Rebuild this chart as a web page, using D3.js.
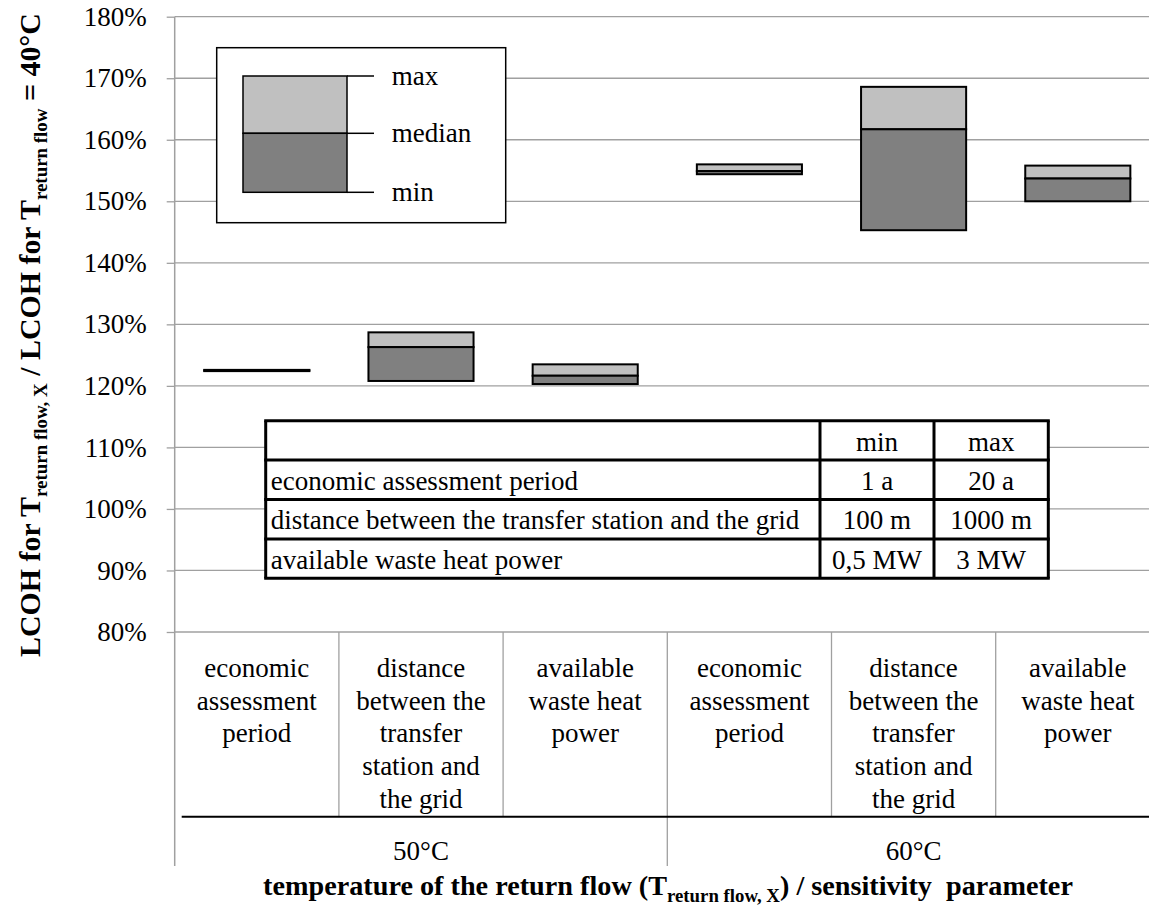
<!DOCTYPE html>
<html>
<head>
<meta charset="utf-8">
<script src="https://cdn.jsdelivr.net/npm/d3@7/dist/d3.min.js"></script>
<style>
  body { margin: 0; background: #fff; }
  svg { display: block; font-family: 'Liberation Serif', 'Times New Roman', serif; }
</style>
</head>
<body>
<svg id="chart" width="1149" height="906"></svg>
<script>
// data
const groups = ['50°C', '60°C'];
const params = ['economic assessment period', 'distance between the transfer station and the grid', 'available waste heat power'];
const paramLines = [
  ['economic', 'assessment', 'period'],
  ['distance', 'between the', 'transfer', 'station and', 'the grid'],
  ['available', 'waste heat', 'power'],
];
const minValues = [122.4, 120.8, 120.3, 154.4, 145.3, 150.0];
const medianValues = [122.5, 126.3, 121.65, 154.9, 161.7, 153.7];
const maxValues = [122.6, 128.7, 123.5, 156.0, 168.6, 155.8];
const yTicks = [80, 90, 100, 110, 120, 130, 140, 150, 160, 170, 180];
const tableHeader = ['', 'min', 'max'];
const tableRows = [
  ['economic assessment period', '1 a', '20 a'],
  ['distance between the transfer station and the grid', '100 m', '1000 m'],
  ['available waste heat power', '0,5 MW', '3 MW'],
];
const legendLabels = ['max', 'median', 'min'];

// layout
const plotLeft = 174.7;
const colStep = 164.2;
const plotRight = plotLeft + colStep * 6;
const plotTop = 16.7;
const plotBottom = 632;
const catLine = 816.7;
const axisBottom = 866;
const gridColor = '#a0a0a0';
const lightFill = '#c0c0c0';
const darkFill = '#808080';

const svg = d3.select('#chart');
svg.append('rect').attr('width', 1149).attr('height', 906).attr('fill', '#fff');

// one column per group x parameter
const cols = groups.flatMap((g) => params.map((p) => `${g}|${p}`));

const x = d3.scaleBand()
  .domain(cols)
  .range([plotLeft, plotRight])
  .paddingInner(0.36)
  .paddingOuter(0.18);

const xGroup = d3.scaleBand().domain(groups).range([plotLeft, plotRight]);

const y = d3.scaleLinear().domain([80, 180]).range([plotBottom, plotTop]);

const colCenter = (c) => x(c) + x.bandwidth() / 2;

// gridlines
svg.append('g')
  .selectAll('line')
  .data(yTicks)
  .join('line')
  .attr('x1', plotLeft)
  .attr('x2', plotRight)
  .attr('y1', (d) => y(d))
  .attr('y2', (d) => y(d))
  .attr('stroke', gridColor)
  .attr('stroke-width', 1.3);

// y axis
const yAxis = svg.append('g')
  .attr('transform', `translate(${plotLeft},0)`)
  .call(d3.axisLeft(y).tickValues(yTicks).tickSize(8).tickPadding(20).tickFormat((d) => `${d}%`));
yAxis.select('.domain').remove();
yAxis.selectAll('.tick line').attr('stroke', gridColor).attr('stroke-width', 1.3);
yAxis.selectAll('.tick text')
  .attr('font-family', "'Liberation Serif', 'Times New Roman', serif")
  .attr('font-size', 27)
  .attr('fill', '#000');

svg.append('line')
  .attr('x1', plotLeft).attr('x2', plotLeft)
  .attr('y1', plotTop).attr('y2', axisBottom)
  .attr('stroke', gridColor).attr('stroke-width', 1.5);

// category separators
svg.append('g')
  .selectAll('line')
  .data(d3.range(1, cols.length))
  .join('line')
  .attr('x1', (i) => plotLeft + i * x.step())
  .attr('x2', (i) => plotLeft + i * x.step())
  .attr('y1', plotBottom)
  .attr('y2', (i) => (i % params.length === 0 ? axisBottom : catLine))
  .attr('stroke', gridColor)
  .attr('stroke-width', 1.3);

svg.append('line')
  .attr('x1', plotLeft + 7).attr('x2', plotRight)
  .attr('y1', catLine).attr('y2', catLine)
  .attr('stroke', '#000').attr('stroke-width', 2);

// category labels
const catG = svg.append('g').attr('font-size', 27).attr('text-anchor', 'middle');
cols.forEach((c, i) => {
  const lines = paramLines[i % params.length];
  const t = catG.append('text');
  lines.forEach((ln, k) => {
    t.append('tspan').attr('x', colCenter(c)).attr('y', 677 + k * 32.7).text(ln);
  });
});

svg.append('g')
  .attr('font-size', 27)
  .attr('text-anchor', 'middle')
  .selectAll('text')
  .data(groups)
  .join('text')
  .attr('x', (g) => xGroup(g) + xGroup.bandwidth() / 2)
  .attr('y', 860)
  .text((g) => g);

// boxes
const boxes = cols.map((c, i) => ({ c, min: minValues[i], med: medianValues[i], max: maxValues[i] }));
const boxG = svg.append('g').attr('stroke', '#000').attr('stroke-width', 2);
boxG.selectAll('rect.upper')
  .data(boxes)
  .join('rect')
  .attr('class', 'upper')
  .attr('x', (d) => x(d.c))
  .attr('width', x.bandwidth())
  .attr('y', (d) => y(d.max))
  .attr('height', (d) => y(d.med) - y(d.max))
  .attr('fill', lightFill);
boxG.selectAll('rect.lower')
  .data(boxes)
  .join('rect')
  .attr('class', 'lower')
  .attr('x', (d) => x(d.c))
  .attr('width', x.bandwidth())
  .attr('y', (d) => y(d.med))
  .attr('height', (d) => y(d.min) - y(d.med))
  .attr('fill', darkFill);

// legend
const lg = svg.append('g');
lg.append('rect')
  .attr('x', 216.7).attr('y', 47.7).attr('width', 289).attr('height', 175)
  .attr('fill', '#fff').attr('stroke', '#000').attr('stroke-width', 1.5);
const legY = [76, 133.3, 192.3];
lg.append('rect')
  .attr('x', 243).attr('y', legY[0]).attr('width', 104).attr('height', legY[1] - legY[0])
  .attr('fill', lightFill).attr('stroke', '#000').attr('stroke-width', 1.5);
lg.append('rect')
  .attr('x', 243).attr('y', legY[1]).attr('width', 104).attr('height', legY[2] - legY[1])
  .attr('fill', darkFill).attr('stroke', '#000').attr('stroke-width', 1.5);
legendLabels.forEach((lab, i) => {
  lg.append('line')
    .attr('x1', 347).attr('x2', 374).attr('y1', legY[i]).attr('y2', legY[i])
    .attr('stroke', '#000').attr('stroke-width', 1.5);
  lg.append('text')
    .attr('x', 391.7).attr('y', legY[i]).attr('dy', '0.33em')
    .attr('font-size', 27)
    .text(lab);
});

// parameter table
const tX = [265.7, 820, 934, 1048.3];
const tTop = 420.7;
const rowH = 39.4;
const allRows = [tableHeader, ...tableRows];
const tg = svg.append('g');
tg.append('rect')
  .attr('x', tX[0]).attr('y', tTop)
  .attr('width', tX[3] - tX[0]).attr('height', rowH * allRows.length)
  .attr('fill', '#fff');
allRows.forEach((row, r) => {
  row.forEach((cell, k) => {
    tg.append('text')
      .attr('x', k === 0 ? tX[0] + 5 : (tX[k] + tX[k + 1]) / 2)
      .attr('y', tTop + (r + 1) * rowH - 9.5)
      .attr('text-anchor', k === 0 ? 'start' : 'middle')
      .attr('font-size', 27)
      .text(cell);
  });
});
d3.range(allRows.length + 1).forEach((r) => {
  tg.append('line')
    .attr('x1', tX[0] - 1.5).attr('x2', tX[3] + 1.5)
    .attr('y1', tTop + r * rowH).attr('y2', tTop + r * rowH)
    .attr('stroke', '#000').attr('stroke-width', 3);
});
tX.forEach((xx) => {
  tg.append('line')
    .attr('x1', xx).attr('x2', xx)
    .attr('y1', tTop).attr('y2', tTop + rowH * allRows.length)
    .attr('stroke', '#000').attr('stroke-width', 3);
});

// titles with subscripts, squeezed to the measured length
function titled(g, parts, size, subSize) {
  const t = g.append('text')
    .attr('font-weight', 'bold')
    .attr('font-size', size)
    .attr('text-anchor', 'middle')
    .style('white-space', 'pre');
  let prevSub = false;
  parts.forEach(([txt, isSub]) => {
    const s = t.append('tspan').attr('font-size', isSub ? subSize : size).text(txt);
    if (isSub && !prevSub) s.attr('dy', 7);
    if (!isSub && prevSub) s.attr('dy', -7);
    prevSub = isSub;
  });
  return t;
}

function fit(t, len) {
  const w = t.node().getComputedTextLength();
  t.attr('transform', `scale(${len / w},1)`);
}

const yTitleG = svg.append('g').attr('transform', 'translate(40,335) rotate(-90)');
const yTitle = titled(yTitleG, [
  ['LCOH for T', false], ['return flow, X', true], [' / LCOH for T', false], ['return flow', true], [' = 40°C', false],
], 30, 19);
fit(yTitle, 644);

const xTitleG = svg.append('g').attr('transform', 'translate(668,895)');
const xTitle = titled(xTitleG, [
  ['temperature of the return flow (T', false], ['return flow, X', true], [') / sensitivity  parameter', false],
], 27, 18);
fit(xTitle, 810);
</script>
</body>
</html>
